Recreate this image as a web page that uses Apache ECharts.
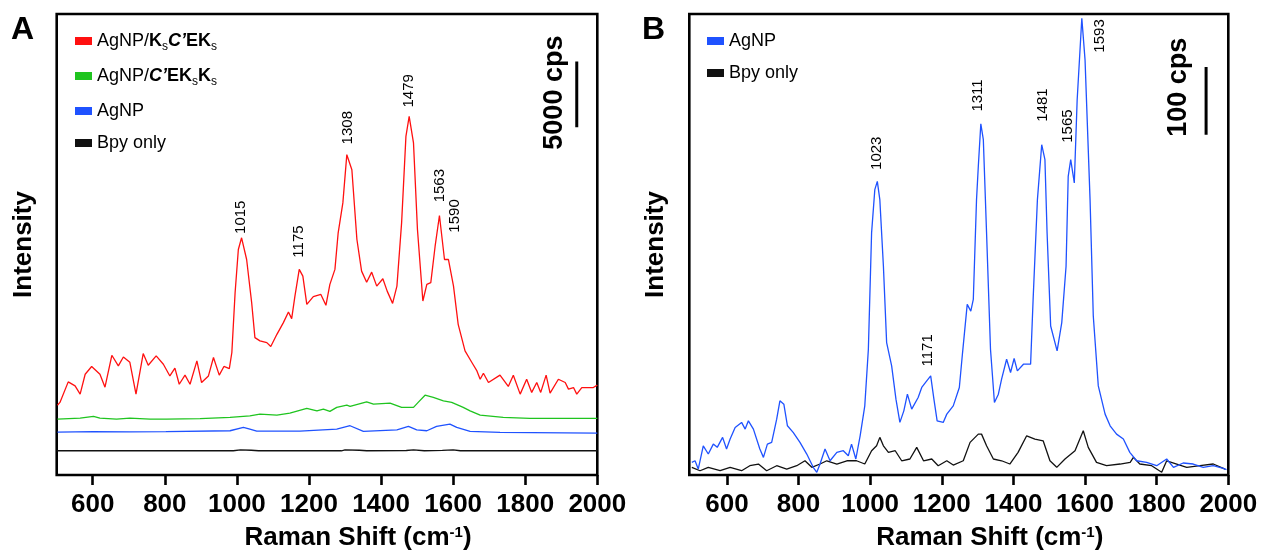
<!DOCTYPE html>
<html>
<head>
<meta charset="utf-8">
<script src="https://cdn.jsdelivr.net/npm/echarts@6/dist/echarts.min.js"></script>
<style>
  html, body { margin: 0; padding: 0; background: #fff; }
  #chart { width: 1262px; height: 556px; }
</style>
</head>
<body>
<div id="chart"></div>
<script>
// 面板 A：强度 (cps)，各曲线已按原图叠加偏移
const redA = [[502,5300],[509,5510],[532,7070],[551,6770],[565,6140],[579,7650],[597,8240],[620,7650],[634,6670],[653,9090],[671,8280],[685,8960],[703,8560],[720,6140],[740,9220],[754,8330],[776,9040],[796,8410],[814,7520],[828,8110],[840,6890],[856,7580],[870,6890],[889,8660],[902,7020],[921,7520],[935,8920],[951,7580],[964,8240],[979,8080],[986,9300],[995,13840],[1004,17120],[1013,18010],[1027,16360],[1041,13080],[1050,10430],[1064,10180],[1083,10050],[1094,9750],[1111,10680],[1129,11570],[1143,12370],[1152,11870],[1161,13580],[1173,15610],[1183,15100],[1194,12960],[1212,13540],[1233,13710],[1247,12880],[1258,14470],[1272,15610],[1281,18390],[1294,20660],[1305,24320],[1319,23180],[1333,17880],[1346,15480],[1360,14640],[1374,15400],[1388,14340],[1405,14900],[1417,13960],[1432,13030],[1444,14340],[1457,19140],[1469,25710],[1478,27220],[1490,25210],[1501,18640],[1516,13210],[1527,14470],[1538,14600],[1550,17370],[1562,19700],[1576,16360],[1587,16360],[1601,14340],[1614,11440],[1633,9420],[1652,8540],[1666,7900],[1675,7270],[1684,7730],[1698,7020],[1730,7580],[1753,6720],[1767,7580],[1786,6140],[1804,7270],[1818,6270],[1832,7020],[1843,6270],[1858,7580],[1869,6210],[1892,7270],[1911,7020],[1920,6520],[1934,6640],[1943,6140],[1957,6640],[1989,6640],[2000,6820]]
const greenA = [[502,4240],[565,4320],[602,4450],[620,4320],[666,4240],[703,4320],[759,4240],[805,4240],[898,4280],[981,4370],[1036,4490],[1064,4620],[1111,4550],[1147,4700],[1194,5050],[1222,4870],[1240,5000],[1258,4830],[1277,5130],[1305,5300],[1314,5210],[1360,5550],[1379,5380],[1425,5460],[1457,5130],[1490,5130],[1503,5510],[1522,6060],[1545,5890],[1573,5630],[1596,5510],[1628,5130],[1647,4870],[1675,4550],[1739,4370],[1813,4300],[2000,4300]]
const blueA = [[502,3260],[601,3300],[703,3280],[803,3300],[981,3360],[1018,3610],[1036,3490],[1055,3330],[1175,3330],[1277,3490],[1314,3740],[1351,3310],[1444,3430],[1476,3690],[1499,3430],[1527,3360],[1554,3690],[1591,3860],[1610,3610],[1647,3310],[1730,3240],[2000,3180]]
const bpyA = [[500,1840],[990,1840],[1010,1900],[1040,1880],[1060,1840],[1120,1850],[1180,1840],[1290,1840],[1300,1900],[1340,1880],[1360,1840],[1470,1860],[1490,1900],[1520,1840],[1570,1870],[1600,1900],[1620,1840],[2000,1840]]
const peaksA = [[1011,18300,'1015'],[1173,16500,'1175'],[1308,25100,'1308'],[1478,27900,'1479'],[1562,20700,'1563'],[1605,18400,'1590']]
const scaleA = [[1943,26400],[1943,31400]]
const scaleTextA = [[1882,24700,'5000 cps']]

// 面板 B
const blueB = [[502,18.7],[511,21],[520,8.8],[534,43],[548,31],[562,45.6],[573,40.8],[588,55.5],[599,38.3],[609,53],[623,70.2],[641,77.6],[651,67.7],[660,79.9],[674,67.7],[692,38.3],[702,26],[713,45.6],[725,48.1],[739,82.4],[748,109.4],[759,104.5],[769,72.6],[785,62.8],[804,48.1],[823,30.9],[841,11.3],[851,4],[860,16.2],[874,38.3],[888,21],[907,33.4],[925,35.8],[939,28.4],[948,45.6],[960,23.6],[972,57.8],[985,102],[995,185.5],[1004,357.2],[1013,421],[1020,433.2],[1027,406.2],[1037,308],[1046,195.3],[1060,160.9],[1072,111.9],[1083,77.6],[1094,94.6],[1104,119.2],[1116,97.1],[1134,114.4],[1144,129.1],[1158,138.8],[1169,146.2],[1178,111.9],[1187,79.9],[1204,77.6],[1214,89.8],[1232,102],[1249,129.1],[1258,180.6],[1271,251.7],[1281,241.8],[1288,259],[1297,406.2],[1302,455.3],[1309,518.1],[1316,494.6],[1325,357.2],[1336,185.5],[1347,107],[1358,119.2],[1367,141.3],[1381,170.7],[1392,151.2],[1402,171.8],[1411,153.5],[1428,163.4],[1448,163.4],[1455,259],[1467,406.2],[1479,487.2],[1488,465.1],[1494,357.2],[1504,219.8],[1522,183],[1535,224.8],[1547,308],[1553,440.5],[1560,465.1],[1570,430.8],[1578,553.4],[1591,673.7],[1600,612.3],[1614,406.2],[1623,234.5],[1637,131.4],[1656,89.8],[1670,72.6],[1688,60.3],[1707,53],[1725,33.4],[1744,21],[1772,18.7],[1800,13.7],[1828,23.6],[1847,11.3],[1874,17.7],[1902,16.2],[1930,11.3],[1958,13.7],[1986,9.9],[1995,7.8]]
const bpyB = [[502,11.3],[525,6.3],[548,11.3],[581,6.3],[609,11.3],[641,6.3],[664,13.7],[688,16.2],[711,6.3],[739,13.7],[767,8.8],[795,13.7],[818,21],[837,11.3],[860,16.2],[879,21],[907,16.2],[935,21],[962,21],[985,16.2],[1004,35.8],[1018,43.1],[1027,55.5],[1037,43.1],[1051,33.4],[1070,35.8],[1088,21],[1111,23.6],[1130,40.8],[1149,21],[1172,23.6],[1190,13.7],[1214,21],[1232,14.7],[1260,21],[1279,48.1],[1302,60.3],[1311,60.3],[1325,43.1],[1344,23.6],[1367,21],[1390,16.2],[1413,33.4],[1437,57.8],[1460,53],[1483,50.5],[1502,21],[1521,11.3],[1544,23.6],[1572,35.8],[1595,65.2],[1609,40.8],[1632,18.7],[1660,13.7],[1698,16.2],[1726,18.7],[1735,26],[1753,16.2],[1786,13.7],[1814,4],[1828,21],[1856,16.2],[1884,11.3],[1921,13.7],[1958,16.2],[1991,8.8]]
const peaksB = [[1018,450,'1023'],[1162,160,'1171'],[1300,536,'1311'],[1483,521,'1481'],[1553,490,'1565'],[1642,623,'1593']]
const scaleB = [[1938,502],[1938,602]]
const scaleTextB = [[1862,499,'100 cps']]

const xTicks = [600, 800, 1000, 1200, 1400, 1600, 1800, 2000]

const FONT = 'Arial, "Liberation Sans", sans-serif'
const RED = '#ff1010', GREEN = '#1fc41f', BLUE = '#1f52ff', BLACK = '#111'

const chart = echarts.init(document.getElementById('chart'))

function xAxisOf(gridIndex, min) {
    return {
        type: 'value', gridIndex, min, max: 2000,
        name: 'Raman Shift (cm{sup|-1})',
        nameLocation: 'middle', nameGap: 50,
        nameTextStyle: {
            fontFamily: FONT, fontSize: 26, fontWeight: 'bold', color: '#000',
            padding: [0, 0, 0, 62],
            rich: { sup: { fontFamily: FONT, fontSize: 15, fontWeight: 'bold', color: '#000', verticalAlign: 'top', padding: [0, 0, 8, 0] } }
        },
        axisLine: { show: false },
        axisTick: { show: true, inside: false, length: 10, customValues: xTicks, lineStyle: { color: '#000', width: 2.6 } },
        axisLabel: { customValues: xTicks, formatter: v => String(v), margin: 17, fontFamily: FONT, fontSize: 26, fontWeight: 'bold', color: '#000' },
        splitLine: { show: false }
    }
}
function yAxisOf(gridIndex, max) {
    return {
        type: 'value', gridIndex, min: 0, max,
        name: 'Intensity', nameLocation: 'middle', nameGap: 20, nameRotate: 90,
        nameTextStyle: { fontFamily: FONT, fontSize: 26, fontWeight: 'bold', color: '#000' },
        axisLine: { show: false }, axisTick: { show: false }, axisLabel: { show: false },
        splitLine: { show: false }
    }
}
function lineOf(name, data, color, idx) {
    return {
        name, type: 'line', data, xAxisIndex: idx, yAxisIndex: idx,
        showSymbol: false, symbol: 'none', silent: true, animation: false,
        lineStyle: { color, width: 1.3 }, itemStyle: { color }
    }
}
function textOf(data, idx, font) {
    return {
        type: 'custom', xAxisIndex: idx, yAxisIndex: idx, data, silent: true, animation: false,
        renderItem: (params, api) => {
            const p = api.coord([api.value(0), api.value(1)])
            return {
                type: 'text', x: p[0], y: p[1], rotation: Math.PI / 2,
                style: { text: data[params.dataIndex][2], font, fill: '#000', align: 'left', verticalAlign: 'middle' }
            }
        }
    }
}
function barOf(data, idx) {
    return {
        type: 'line', data, xAxisIndex: idx, yAxisIndex: idx, symbol: 'none', silent: true, animation: false,
        lineStyle: { color: '#000', width: 3 }
    }
}

const nameA1 = 'AgNP/KsC\u2019EKs', nameA2 = 'AgNP/C\u2019EKsKs'
const legendRich = {
    b: { fontFamily: FONT, fontSize: 18, fontWeight: 'bold', color: '#000' },
    bi: { fontFamily: FONT, fontSize: 18, fontWeight: 'bold', fontStyle: 'italic', color: '#000' },
    sub: { fontFamily: FONT, fontSize: 12, color: '#000', verticalAlign: 'bottom', padding: [12, 0, 0, 0] }
}
const legendText = {
    [nameA1]: 'AgNP/{b|K}{sub|s}{bi|C\u2019}{b|EK}{sub|s}',
    [nameA2]: 'AgNP/{bi|C\u2019}{b|EK}{sub|s}{b|K}{sub|s}'
}
const legendBase = {
    orient: 'vertical', icon: 'rect', itemWidth: 17, itemHeight: 8, itemGap: 14,
    selectedMode: false, formatter: n => legendText[n] || n,
    textStyle: { fontFamily: FONT, fontSize: 18, color: '#000', rich: legendRich }
}

chart.setOption({
    animation: false,
    grid: [
        { left: 56.7, top: 14, width: 540.6, height: 462, show: true, borderColor: '#000', borderWidth: 2.6, backgroundColor: 'transparent' },
        { left: 689.3, top: 14, width: 539, height: 462, show: true, borderColor: '#000', borderWidth: 2.6, backgroundColor: 'transparent' }
    ],
    xAxis: [xAxisOf(0, 500), xAxisOf(1, 495)],
    yAxis: [yAxisOf(0, 35000), yAxisOf(1, 680)],
    legend: [
        Object.assign({}, legendBase, { left: 70, top: 27, data: [nameA1, nameA2, 'AgNP', 'Bpy only'] }),
        Object.assign({}, legendBase, { left: 702, top: 27, data: ['AgNP', 'Bpy only'] })
    ],
    graphic: [
        { type: 'text', left: 11, top: 14, style: { text: 'A', font: 'bold 32px ' + FONT, fill: '#000' } },
        { type: 'text', left: 642, top: 14, style: { text: 'B', font: 'bold 32px ' + FONT, fill: '#000' } }
    ],
    series: [
        lineOf('Bpy only', bpyA, BLACK, 0),
        lineOf('AgNP', blueA, BLUE, 0),
        lineOf(nameA2, greenA, GREEN, 0),
        lineOf(nameA1, redA, RED, 0),
        textOf(peaksA, 0, '15px ' + FONT),
        barOf(scaleA, 0),
        textOf(scaleTextA, 0, 'bold 27px ' + FONT),
        lineOf('Bpy only', bpyB, BLACK, 1),
        lineOf('AgNP', blueB, BLUE, 1),
        textOf(peaksB, 1, '15px ' + FONT),
        barOf(scaleB, 1),
        textOf(scaleTextB, 1, 'bold 27px ' + FONT)
    ]
})
</script>
</body>
</html>
